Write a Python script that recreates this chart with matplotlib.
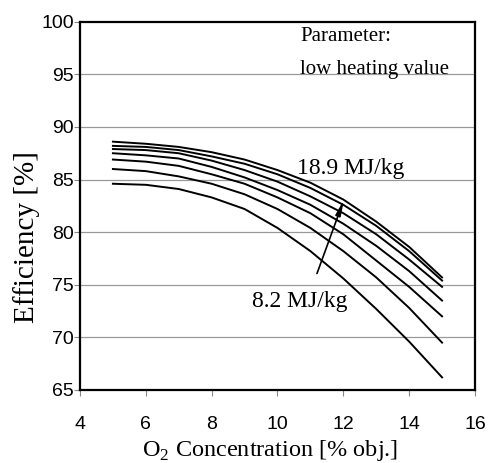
import numpy as np
import matplotlib
matplotlib.use('Agg')
import matplotlib.pyplot as plt

plt.rcParams['mathtext.fontset'] = 'custom'
plt.rcParams['mathtext.rm'] = 'Liberation Serif'

# O2 concentration [% obj.]
o2 = [5, 6, 7, 8, 9, 10, 11, 12, 13, 14, 15]

# efficiency curves, from highest LHV (18.9 MJ/kg) down to lowest (8.2 MJ/kg)
eff_1 = [88.6, 88.4, 88.1, 87.6, 86.9, 85.9, 84.7, 83.1, 81.0, 78.6, 75.7]
eff_2 = [88.2, 88.1, 87.8, 87.2, 86.5, 85.5, 84.2, 82.6, 80.6, 78.2, 75.4]
eff_3 = [87.9, 87.8, 87.5, 86.8, 85.9, 84.8, 83.4, 81.8, 79.8, 77.4, 74.8]
eff_4 = [87.5, 87.3, 87.0, 86.2, 85.2, 84.0, 82.6, 80.8, 78.7, 76.3, 73.5]
eff_5 = [86.9, 86.7, 86.3, 85.5, 84.6, 83.3, 81.8, 79.8, 77.3, 74.8, 72.0]
eff_6 = [86.0, 85.8, 85.3, 84.6, 83.6, 82.2, 80.4, 78.2, 75.7, 72.8, 69.5]
eff_7 = [84.6, 84.5, 84.1, 83.3, 82.2, 80.4, 78.2, 75.6, 72.7, 69.6, 66.2]
curves = [eff_1, eff_2, eff_3, eff_4, eff_5, eff_6, eff_7]

xticks = [4, 6, 8, 10, 12, 14, 16]
yticks = [65, 70, 75, 80, 85, 90, 95, 100]

fig = plt.figure(figsize=(4.92, 4.63), dpi=100)
ax = fig.add_axes([0.1626, 0.1577, 0.8028, 0.7954])

for yv in yticks[1:-1]:
    ax.axhline(yv, color='#999999', linewidth=0.9, zorder=1)

for c in curves:
    ax.plot(o2, c, color='black', linewidth=1.4, zorder=3)

ax.set_xlim(4, 16)
ax.set_ylim(65, 100)
ax.set_xticks(xticks)
ax.set_yticks(yticks)
ax.tick_params(axis='x', direction='out', length=4.5, width=0.8, color='#888888',
               pad=14, labelsize=14)
ax.tick_params(axis='y', direction='out', length=4.5, width=0.8, color='#888888',
               pad=0, labelsize=14)
for lab in ax.get_xticklabels() + ax.get_yticklabels():
    lab.set_fontfamily('Liberation Sans')

for s in ax.spines.values():
    s.set_linewidth(1.6)
    s.set_color('black')

ax.set_xlabel('O$_{\\mathrm{2}}$ Concentration [% obj.]', fontfamily='Liberation Serif',
              fontsize=17.5, labelpad=0)
ax.set_ylabel('Efficiency [%]', fontfamily='Liberation Serif', fontsize=21)
ax.yaxis.set_label_coords(-0.101, 0.414)
ax.xaxis.set_label_coords(0.48, -0.13)

serif = 'Liberation Serif'
ax.text(10.69, 98.16, 'Parameter:', fontfamily=serif, fontsize=15, va='baseline')
ax.text(10.69, 95.0, 'low heating value', fontfamily=serif, fontsize=15, va='baseline')
ax.text(10.6, 85.56, '18.9 MJ/kg', fontfamily=serif, fontsize=17, va='baseline')
ax.text(9.22, 72.86, '8.2 MJ/kg', fontfamily=serif, fontsize=17, va='baseline')

ax.annotate('', xy=(12.02, 83.1), xytext=(11.2, 76.07),
            arrowprops=dict(arrowstyle='-|>,head_length=0.9,head_width=0.15',
                            color='black', linewidth=1.2, shrinkA=0, shrinkB=0),
            zorder=4)

fig.savefig('out.png', dpi=100)
